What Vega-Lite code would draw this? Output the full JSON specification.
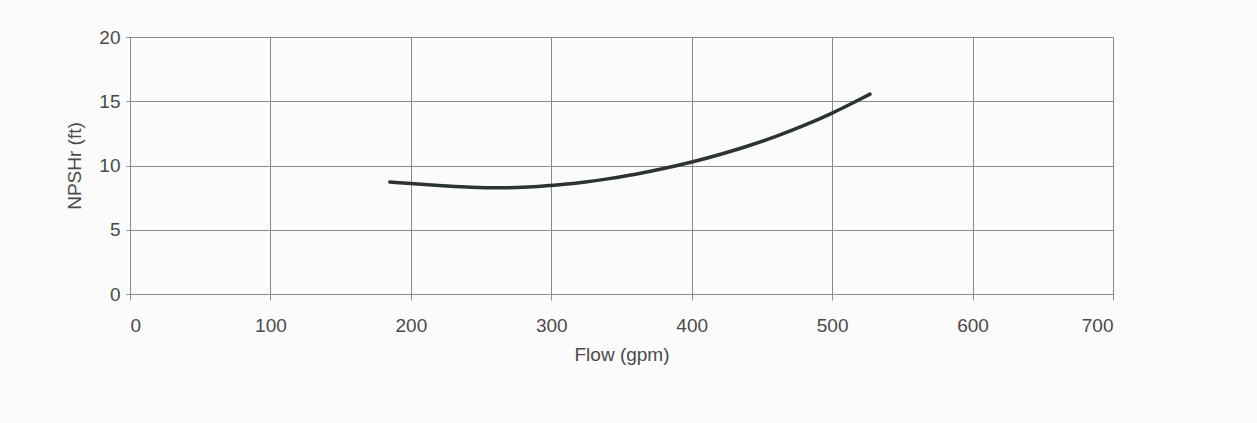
{
  "$schema": "https://vega.github.io/schema/vega-lite/v6.json",
  "autosize": {"type": "none"},
  "width": 983,
  "height": 257,
  "padding": {"left": 130, "top": 37, "right": 144, "bottom": 129},
  "background": "#fbfbfb",
  "config": {
    "font": "Liberation Sans",
    "view": {"stroke": null},
    "axis": {
      "gridColor": "#8a8a8a",
      "gridWidth": 1,
      "gridOpacity": 1,
      "domainColor": "#8a8a8a",
      "tickColor": "#8a8a8a",
      "labelColor": "#4a4a4a",
      "titleColor": "#4a4a4a",
      "labelFont": "Liberation Sans",
      "titleFont": "Liberation Sans",
      "labelFontSize": 19,
      "titleFontSize": 19,
      "titleFontWeight": "normal"
    }
  },
  "data": {
    "values": [
      {"flow": 185, "npsh": 8.72},
      {"flow": 200, "npsh": 8.6},
      {"flow": 220, "npsh": 8.45},
      {"flow": 240, "npsh": 8.33},
      {"flow": 260, "npsh": 8.26},
      {"flow": 280, "npsh": 8.3},
      {"flow": 300, "npsh": 8.45},
      {"flow": 320, "npsh": 8.66},
      {"flow": 340, "npsh": 8.96},
      {"flow": 360, "npsh": 9.32},
      {"flow": 380, "npsh": 9.76},
      {"flow": 400, "npsh": 10.27},
      {"flow": 420, "npsh": 10.86},
      {"flow": 440, "npsh": 11.52},
      {"flow": 460, "npsh": 12.27},
      {"flow": 480, "npsh": 13.12},
      {"flow": 500, "npsh": 14.08},
      {"flow": 515, "npsh": 14.88},
      {"flow": 527, "npsh": 15.55}
    ]
  },
  "mark": {"type": "line", "color": "#2c3430", "strokeWidth": 3.5, "interpolate": "monotone", "strokeCap": "round"},
  "encoding": {
    "x": {
      "field": "flow",
      "type": "quantitative",
      "scale": {"domain": [0, 700], "nice": false},
      "axis": {
        "title": "Flow (gpm)",
        "values": [0, 100, 200, 300, 400, 500, 600, 700],
        "tickSize": 6,
        "labelPadding": 16,
        "titlePadding": 10
      }
    },
    "y": {
      "field": "npsh",
      "type": "quantitative",
      "scale": {"domain": [0, 20], "nice": false},
      "axis": {
        "title": "NPSHr (ft)",
        "values": [0, 5, 10, 15, 20],
        "tickSize": 4,
        "labelPadding": 6,
        "titlePadding": 14
      }
    }
  }
}
